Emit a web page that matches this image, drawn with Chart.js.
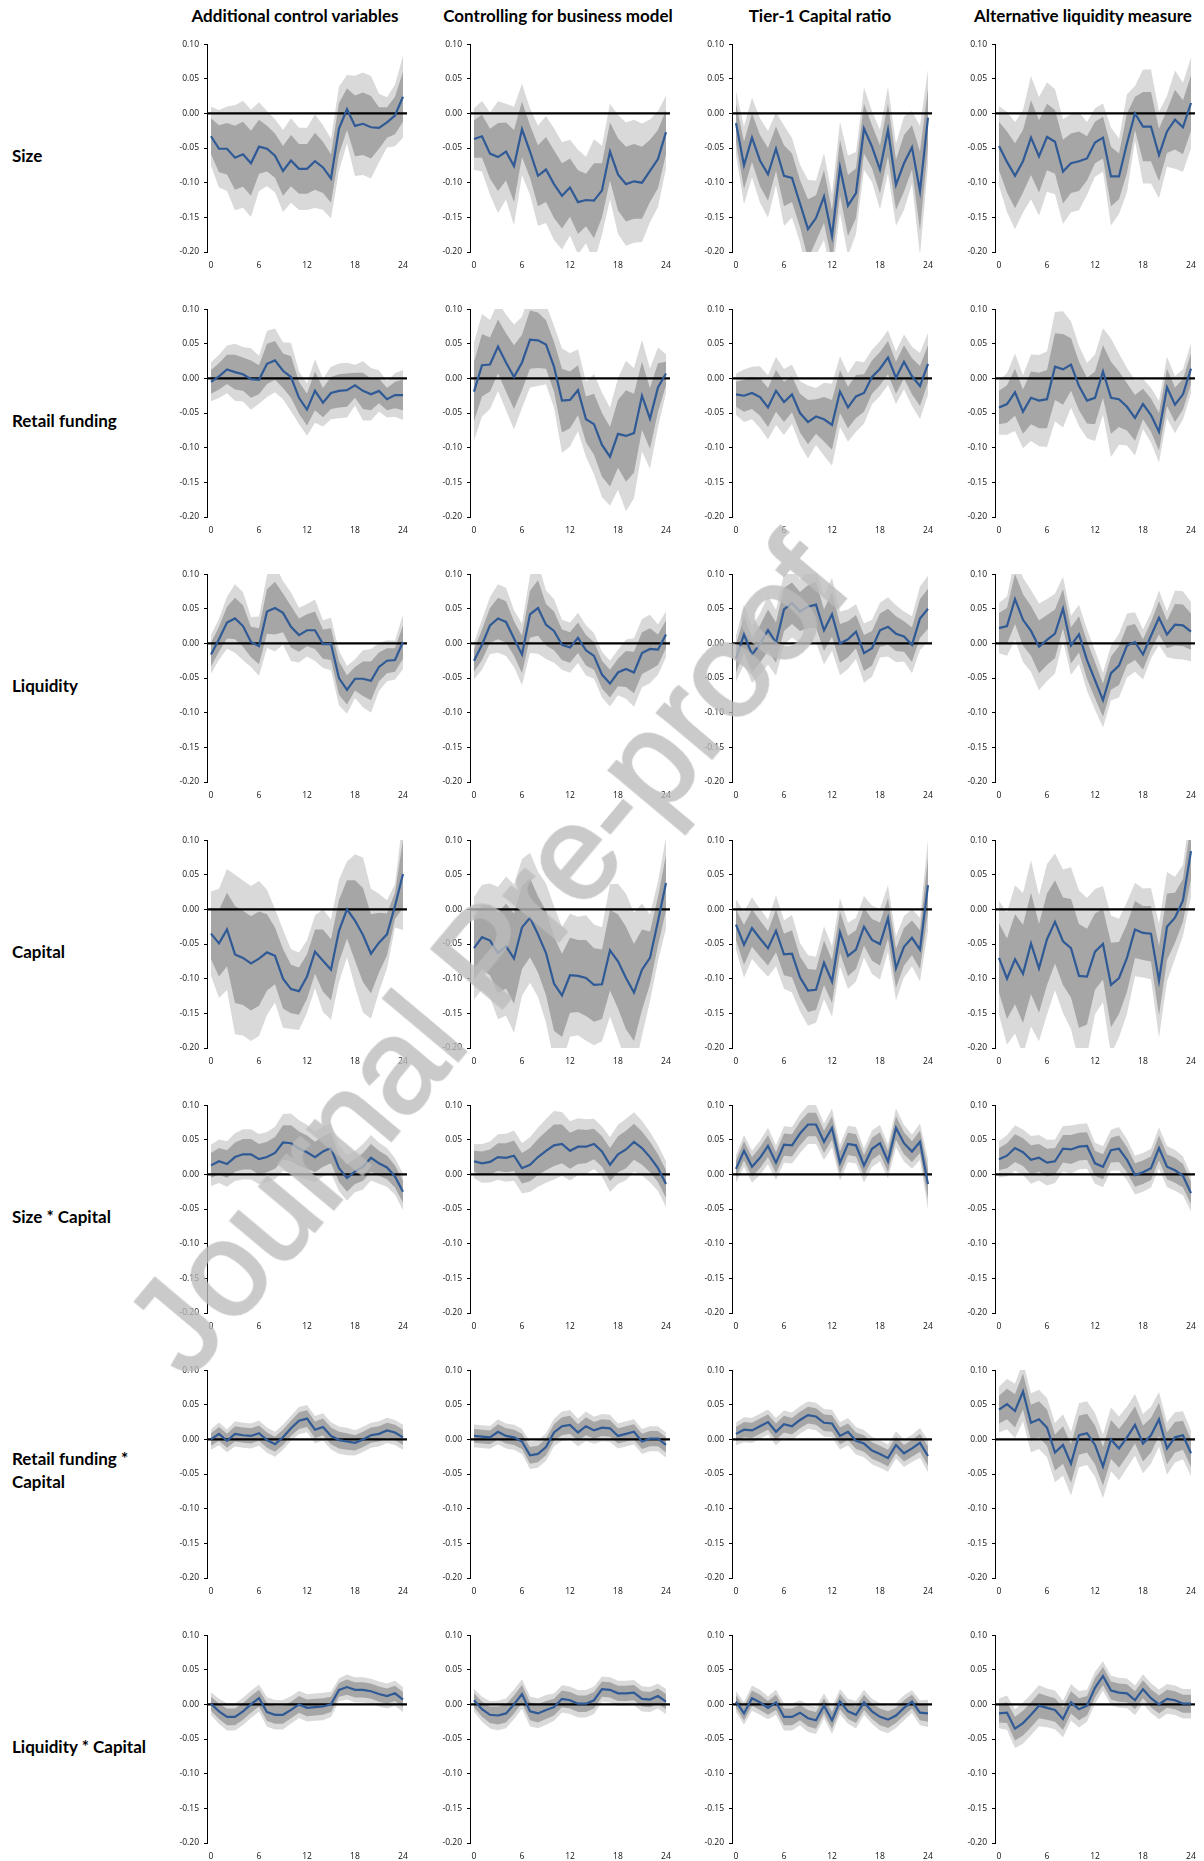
<!DOCTYPE html>
<html lang="en">
<head>
<meta charset="UTF-8" />
<title>Impulse responses - robustness</title>
<script src="https://cdn.jsdelivr.net/npm/chart.js@4.4.0/dist/chart.umd.min.js"></script>
<style>
  body { margin: 0; background: #fff; }
  #page { position: relative; width: 1204px; height: 1861px; overflow: hidden; background: #fff; }
  .panel { position: absolute; }
  .coltitle { position: absolute; font-family: Lato, "Open Sans", sans-serif; font-weight: 700; font-size: 17px; color: #000; transform: translate(-50%, -50%); white-space: nowrap; }
  .rowtitle { position: absolute; left: 12px; font-family: Lato, "Open Sans", sans-serif; font-weight: 700; font-size: 17px; line-height: 23px; color: #000; transform: translateY(-50%); white-space: pre; }
  #wm { position: absolute; font-family: "Liberation Sans", Arial, sans-serif; font-size: 134px; color: rgb(188,188,188); -webkit-text-stroke: 3px rgb(188,188,188); opacity: 0.78; white-space: nowrap; transform: translate(-50%, -50%) rotate(-50deg); pointer-events: none; }
</style>
</head>
<body>
<div id="page"></div>
<script>
// horizon (months) and axis ticks
const horizons = [0,1,2,3,4,5,6,7,8,9,10,11,12,13,14,15,16,17,18,19,20,21,22,23,24];
const xTicks = [0, 6, 12, 18, 24];

const columnTitles = ["Additional control variables", "Controlling for business model", "Tier-1 Capital ratio", "Alternative liquidity measure"];
const rowTitles = ["Size", "Retail funding", "Liquidity", "Capital", "Size * Capital", "Retail funding *\nCapital", "Liquidity * Capital"];

// critical values for the inner (dark) and outer (light) bands
const innerBand = 1.0;
const outerBand = 1.645;

// --- Size ---
const size_c1 = [-0.033,-0.051,-0.051,-0.064,-0.059,-0.072,-0.048,-0.051,-0.061,-0.083,-0.068,-0.080,-0.080,-0.069,-0.078,-0.094,-0.022,0.006,-0.018,-0.015,-0.020,-0.021,-0.013,-0.003,0.024];
const size_c1_se = [0.026,0.034,0.037,0.046,0.047,0.047,0.039,0.033,0.032,0.036,0.037,0.036,0.036,0.041,0.037,0.035,0.037,0.030,0.044,0.045,0.045,0.030,0.022,0.027,0.036];
const size_c2 = [-0.037,-0.033,-0.058,-0.063,-0.055,-0.076,-0.023,-0.055,-0.090,-0.081,-0.102,-0.119,-0.107,-0.128,-0.125,-0.126,-0.111,-0.055,-0.088,-0.102,-0.098,-0.100,-0.083,-0.066,-0.027];
const size_c2_se = [0.027,0.031,0.036,0.049,0.042,0.052,0.040,0.038,0.044,0.047,0.049,0.047,0.042,0.046,0.038,0.054,0.039,0.042,0.052,0.054,0.054,0.052,0.045,0.042,0.032];
const size_c3 = [-0.014,-0.075,-0.035,-0.068,-0.088,-0.051,-0.090,-0.093,-0.130,-0.167,-0.151,-0.120,-0.177,-0.078,-0.133,-0.115,-0.022,-0.048,-0.081,-0.024,-0.103,-0.072,-0.049,-0.112,-0.006];
const size_c3_se = [0.028,0.034,0.035,0.037,0.038,0.032,0.044,0.035,0.034,0.043,0.033,0.038,0.037,0.040,0.044,0.036,0.036,0.031,0.035,0.038,0.036,0.041,0.032,0.057,0.042];
const size_c4 = [-0.047,-0.070,-0.090,-0.069,-0.035,-0.062,-0.034,-0.041,-0.084,-0.072,-0.069,-0.065,-0.042,-0.035,-0.091,-0.091,-0.043,0.000,-0.019,-0.019,-0.060,-0.026,-0.009,-0.020,0.015];
const size_c4_se = [0.035,0.044,0.047,0.045,0.054,0.052,0.048,0.046,0.046,0.043,0.043,0.032,0.030,0.030,0.043,0.033,0.043,0.024,0.050,0.050,0.038,0.031,0.043,0.039,0.040];

// --- Retail funding ---
const retail_c1 = [-0.005,0.003,0.013,0.009,0.006,-0.001,-0.002,0.021,0.026,0.011,0.002,-0.028,-0.045,-0.018,-0.035,-0.021,-0.018,-0.017,-0.010,-0.018,-0.023,-0.018,-0.030,-0.024,-0.024];
const retail_c1_se = [0.017,0.019,0.021,0.025,0.024,0.027,0.021,0.029,0.028,0.025,0.030,0.023,0.023,0.028,0.021,0.023,0.024,0.024,0.018,0.026,0.023,0.018,0.016,0.019,0.022];
const retail_c2 = [-0.019,0.019,0.020,0.046,0.023,0.002,0.023,0.056,0.055,0.049,0.017,-0.032,-0.031,-0.017,-0.059,-0.066,-0.096,-0.113,-0.080,-0.083,-0.079,-0.025,-0.058,-0.013,0.007];
const retail_c2_se = [0.043,0.045,0.039,0.039,0.042,0.046,0.040,0.042,0.040,0.035,0.036,0.046,0.041,0.036,0.033,0.044,0.046,0.043,0.049,0.066,0.057,0.049,0.044,0.035,0.017];
const retail_c3 = [-0.023,-0.025,-0.021,-0.027,-0.042,-0.018,-0.034,-0.023,-0.050,-0.063,-0.055,-0.059,-0.067,-0.019,-0.042,-0.026,-0.021,0.002,0.014,0.030,0.001,0.024,0.003,-0.011,0.021];
const retail_c3_se = [0.018,0.023,0.023,0.027,0.028,0.030,0.029,0.026,0.028,0.032,0.025,0.032,0.036,0.031,0.030,0.031,0.027,0.024,0.024,0.024,0.023,0.024,0.026,0.029,0.027];
const retail_c4 = [-0.042,-0.037,-0.020,-0.048,-0.028,-0.032,-0.030,0.017,0.013,0.020,-0.011,-0.032,-0.028,0.010,-0.028,-0.030,-0.041,-0.057,-0.037,-0.053,-0.077,-0.013,-0.038,-0.023,0.014];
const retail_c4_se = [0.024,0.027,0.034,0.032,0.038,0.040,0.042,0.048,0.051,0.038,0.035,0.033,0.038,0.038,0.052,0.040,0.034,0.033,0.022,0.024,0.027,0.027,0.025,0.022,0.022];

// --- Liquidity ---
const liq_c1 = [-0.016,0.006,0.030,0.036,0.025,0.002,-0.004,0.046,0.051,0.044,0.024,0.012,0.019,0.019,-0.001,-0.001,-0.050,-0.067,-0.051,-0.051,-0.054,-0.034,-0.025,-0.024,0.002];
const liq_c1_se = [0.017,0.018,0.023,0.030,0.030,0.022,0.026,0.032,0.038,0.028,0.030,0.024,0.023,0.027,0.021,0.023,0.024,0.021,0.017,0.025,0.028,0.021,0.018,0.017,0.024];
const liq_c2 = [-0.025,-0.002,0.026,0.036,0.031,0.007,-0.016,0.042,0.051,0.027,0.018,-0.002,-0.006,0.008,-0.010,-0.018,-0.045,-0.058,-0.042,-0.037,-0.042,-0.014,-0.008,-0.009,0.013];
const liq_c2_se = [0.016,0.022,0.025,0.030,0.030,0.025,0.027,0.034,0.040,0.030,0.028,0.022,0.022,0.022,0.022,0.020,0.020,0.020,0.020,0.026,0.030,0.030,0.030,0.022,0.020];
const liq_c3 = [-0.022,0.013,-0.016,-0.001,0.019,0.001,0.049,0.058,0.046,0.053,0.056,0.019,0.042,0.000,0.006,0.017,-0.014,-0.007,0.019,0.024,0.014,0.010,-0.002,0.036,0.050];
const liq_c3_se = [0.020,0.026,0.025,0.027,0.030,0.029,0.031,0.030,0.028,0.031,0.033,0.030,0.032,0.028,0.026,0.024,0.026,0.025,0.024,0.026,0.025,0.022,0.025,0.028,0.029];
const liq_c4 = [0.022,0.025,0.064,0.034,0.018,-0.005,0.005,0.014,0.050,-0.003,0.013,-0.024,-0.053,-0.082,-0.043,-0.032,-0.003,0.002,-0.016,0.011,0.037,0.013,0.027,0.026,0.017];
const liq_c4_se = [0.022,0.026,0.036,0.037,0.036,0.038,0.036,0.035,0.028,0.026,0.026,0.027,0.026,0.024,0.024,0.028,0.028,0.026,0.022,0.020,0.024,0.020,0.030,0.030,0.026];

// --- Capital ---
const cap_c1 = [-0.035,-0.049,-0.029,-0.065,-0.070,-0.078,-0.071,-0.062,-0.067,-0.100,-0.115,-0.118,-0.097,-0.061,-0.074,-0.087,-0.031,0.000,-0.016,-0.037,-0.064,-0.048,-0.036,0.005,0.051];
const cap_c1_se = [0.037,0.048,0.053,0.070,0.068,0.068,0.068,0.055,0.041,0.043,0.035,0.034,0.032,0.032,0.045,0.044,0.045,0.042,0.058,0.068,0.057,0.043,0.030,0.019,0.049];
const cap_c2 = [-0.056,-0.040,-0.045,-0.063,-0.053,-0.071,-0.026,-0.012,-0.036,-0.063,-0.107,-0.124,-0.095,-0.096,-0.099,-0.109,-0.108,-0.059,-0.075,-0.099,-0.120,-0.087,-0.070,-0.017,0.038];
const cap_c2_se = [0.045,0.046,0.050,0.058,0.061,0.065,0.060,0.057,0.055,0.061,0.068,0.060,0.054,0.052,0.055,0.053,0.050,0.058,0.068,0.074,0.070,0.058,0.038,0.035,0.040];
const cap_c3 = [-0.022,-0.051,-0.027,-0.042,-0.056,-0.031,-0.065,-0.064,-0.098,-0.117,-0.116,-0.077,-0.104,-0.033,-0.067,-0.058,-0.025,-0.044,-0.050,-0.013,-0.085,-0.054,-0.041,-0.058,0.035];
const cap_c3_se = [0.022,0.029,0.027,0.026,0.025,0.031,0.030,0.034,0.030,0.031,0.029,0.032,0.031,0.030,0.029,0.028,0.027,0.030,0.031,0.029,0.028,0.027,0.025,0.028,0.040];
const cap_c4 = [-0.070,-0.100,-0.072,-0.093,-0.049,-0.085,-0.043,-0.018,-0.046,-0.056,-0.096,-0.097,-0.061,-0.050,-0.109,-0.099,-0.070,-0.029,-0.034,-0.035,-0.103,-0.025,-0.012,0.013,0.084];
const cap_c4_se = [0.050,0.058,0.065,0.071,0.073,0.064,0.066,0.060,0.063,0.071,0.075,0.069,0.055,0.051,0.061,0.052,0.049,0.041,0.039,0.040,0.050,0.048,0.036,0.031,0.040];

// --- Size * Capital ---
const sizeCap_c1 = [0.013,0.019,0.015,0.025,0.029,0.029,0.022,0.025,0.031,0.046,0.045,0.037,0.032,0.025,0.033,0.038,0.009,-0.005,0.004,0.011,0.024,0.016,0.010,-0.003,-0.025];
const sizeCap_c1_se = [0.018,0.019,0.020,0.021,0.022,0.022,0.022,0.022,0.023,0.025,0.026,0.025,0.024,0.022,0.022,0.022,0.020,0.020,0.018,0.020,0.020,0.018,0.017,0.016,0.016];
const sizeCap_c2 = [0.019,0.016,0.018,0.025,0.024,0.027,0.009,0.014,0.025,0.034,0.042,0.044,0.034,0.040,0.040,0.044,0.033,0.014,0.029,0.036,0.047,0.038,0.025,0.009,-0.014];
const sizeCap_c2_se = [0.015,0.017,0.018,0.020,0.021,0.022,0.022,0.024,0.026,0.028,0.030,0.028,0.026,0.025,0.024,0.022,0.022,0.024,0.026,0.027,0.026,0.024,0.022,0.020,0.020];
const sizeCap_c3 = [0.008,0.034,0.011,0.024,0.041,0.017,0.043,0.042,0.059,0.072,0.072,0.047,0.067,0.017,0.044,0.042,0.013,0.037,0.045,0.019,0.067,0.045,0.033,0.047,-0.014];
const sizeCap_c3_se = [0.012,0.014,0.014,0.015,0.016,0.015,0.016,0.016,0.017,0.017,0.017,0.016,0.017,0.016,0.016,0.016,0.015,0.016,0.016,0.015,0.017,0.016,0.015,0.016,0.022];
const sizeCap_c4 = [0.022,0.027,0.038,0.032,0.021,0.024,0.017,0.019,0.037,0.036,0.040,0.041,0.016,0.011,0.035,0.037,0.021,-0.001,0.003,0.009,0.038,0.011,0.006,-0.002,-0.027];
const sizeCap_c4_se = [0.016,0.018,0.020,0.020,0.021,0.020,0.020,0.019,0.020,0.021,0.020,0.020,0.018,0.018,0.018,0.019,0.018,0.017,0.017,0.017,0.018,0.018,0.018,0.017,0.016];

// --- Retail funding * Capital ---
const retailCap_c1 = [0.000,0.008,-0.002,0.008,0.006,0.005,0.009,-0.001,-0.007,0.003,0.016,0.027,0.030,0.014,0.018,0.005,-0.001,-0.003,-0.005,0.000,0.006,0.008,0.013,0.010,0.003];
const retailCap_c1_se = [0.009,0.010,0.010,0.011,0.011,0.011,0.011,0.011,0.011,0.011,0.011,0.012,0.012,0.012,0.012,0.012,0.012,0.012,0.011,0.011,0.011,0.011,0.011,0.011,0.011];
const retailCap_c2 = [0.005,0.004,0.003,0.011,0.005,0.003,-0.003,-0.023,-0.021,-0.011,0.010,0.019,0.021,0.010,0.019,0.013,0.017,0.016,0.005,0.008,0.011,-0.003,0.001,0.001,-0.008];
const retailCap_c2_se = [0.010,0.010,0.010,0.011,0.011,0.011,0.011,0.012,0.012,0.012,0.012,0.013,0.013,0.012,0.013,0.012,0.012,0.012,0.011,0.011,0.011,0.011,0.011,0.011,0.011];
const retailCap_c3 = [0.008,0.014,0.013,0.019,0.025,0.011,0.022,0.019,0.028,0.035,0.033,0.024,0.023,0.005,0.011,-0.002,-0.006,-0.016,-0.021,-0.027,-0.008,-0.020,-0.013,-0.005,-0.024];
const retailCap_c3_se = [0.010,0.011,0.011,0.011,0.011,0.012,0.012,0.012,0.012,0.012,0.012,0.012,0.012,0.012,0.012,0.012,0.012,0.012,0.012,0.012,0.012,0.012,0.012,0.013,0.014];
const retailCap_c4 = [0.043,0.051,0.041,0.069,0.024,0.029,0.017,-0.019,-0.008,-0.035,0.006,0.009,-0.008,-0.039,0.000,-0.013,0.003,0.021,-0.006,0.006,0.029,-0.013,0.003,0.006,-0.020];
const retailCap_c4_se = [0.020,0.022,0.024,0.026,0.026,0.026,0.026,0.026,0.027,0.028,0.028,0.028,0.028,0.028,0.028,0.028,0.027,0.027,0.026,0.025,0.024,0.023,0.022,0.021,0.020];

// --- Liquidity * Capital ---
const liqCap_c1 = [0.001,-0.010,-0.018,-0.018,-0.010,0.000,0.009,-0.011,-0.015,-0.015,-0.008,0.000,-0.005,-0.004,-0.003,0.000,0.021,0.025,0.021,0.021,0.019,0.015,0.012,0.016,0.007];
const liqCap_c1_se = [0.010,0.011,0.012,0.012,0.012,0.012,0.012,0.013,0.013,0.013,0.012,0.012,0.012,0.012,0.012,0.011,0.010,0.011,0.011,0.011,0.011,0.011,0.011,0.011,0.011];
const liqCap_c2 = [0.006,-0.007,-0.015,-0.016,-0.013,0.000,0.015,-0.010,-0.013,-0.008,-0.004,0.008,0.006,0.001,0.001,0.006,0.022,0.021,0.016,0.016,0.017,0.008,0.007,0.012,0.004];
const liqCap_c2_se = [0.010,0.011,0.012,0.013,0.013,0.013,0.013,0.013,0.013,0.013,0.012,0.012,0.012,0.012,0.012,0.012,0.011,0.011,0.011,0.011,0.011,0.011,0.011,0.011,0.011];
const liqCap_c3 = [0.004,-0.013,0.009,0.003,-0.005,0.003,-0.018,-0.018,-0.012,-0.020,-0.023,-0.002,-0.023,0.004,-0.010,-0.015,0.003,-0.010,-0.018,-0.022,-0.016,-0.005,0.004,-0.012,-0.013];
const liqCap_c3_se = [0.009,0.010,0.011,0.011,0.010,0.011,0.012,0.012,0.011,0.012,0.012,0.011,0.012,0.011,0.011,0.012,0.011,0.011,0.012,0.012,0.011,0.011,0.010,0.011,0.012];
const liqCap_c4 = [-0.013,-0.012,-0.035,-0.027,-0.015,-0.002,-0.005,-0.008,-0.021,0.003,-0.007,-0.002,0.024,0.041,0.020,0.017,0.016,0.006,0.022,0.009,0.000,0.008,0.006,0.001,0.001];
const liqCap_c4_se = [0.013,0.015,0.017,0.018,0.018,0.018,0.017,0.017,0.016,0.016,0.016,0.014,0.014,0.013,0.013,0.013,0.013,0.013,0.013,0.013,0.013,0.013,0.013,0.013,0.013];

const grid = [
  [[size_c1, size_c1_se], [size_c2, size_c2_se], [size_c3, size_c3_se], [size_c4, size_c4_se]],
  [[retail_c1, retail_c1_se], [retail_c2, retail_c2_se], [retail_c3, retail_c3_se], [retail_c4, retail_c4_se]],
  [[liq_c1, liq_c1_se], [liq_c2, liq_c2_se], [liq_c3, liq_c3_se], [liq_c4, liq_c4_se]],
  [[cap_c1, cap_c1_se], [cap_c2, cap_c2_se], [cap_c3, cap_c3_se], [cap_c4, cap_c4_se]],
  [[sizeCap_c1, sizeCap_c1_se], [sizeCap_c2, sizeCap_c2_se], [sizeCap_c3, sizeCap_c3_se], [sizeCap_c4, sizeCap_c4_se]],
  [[retailCap_c1, retailCap_c1_se], [retailCap_c2, retailCap_c2_se], [retailCap_c3, retailCap_c3_se], [retailCap_c4, retailCap_c4_se]],
  [[liqCap_c1, liqCap_c1_se], [liqCap_c2, liqCap_c2_se], [liqCap_c3, liqCap_c3_se], [liqCap_c4, liqCap_c4_se]]
];

// layout
const axisLeft = [207, 470, 732, 995];
const rowTop0 = 44, rowStep = 265.2, plotH = 208, plotW = 201;
const padL = 50, padR = 8, padT = 10, padB = 22;

const tickFont = { family: "'Open Sans', 'Liberation Sans', sans-serif", size: 8.5 };
const lineBlue = "#2F5A96";
const darkGrey = "#A6A6A6";
const lightGrey = "#D9D9D9";

const zeroLine = {
  id: "zeroLine",
  beforeDatasetDraw(chart, args) {
    if (args.index !== 0) return;
    const ctx = chart.ctx, area = chart.chartArea;
    const y = chart.scales.y.getPixelForValue(0);
    ctx.save();
    ctx.strokeStyle = "#000";
    ctx.lineWidth = 2.3;
    ctx.beginPath();
    ctx.moveTo(area.left, y);
    ctx.lineTo(area.right, y);
    ctx.stroke();
    ctx.restore();
  }
};

function points(vals) {
  return vals.map((v, i) => ({ x: horizons[i], y: v }));
}
function edge(est, se, k) {
  return est.map((v, i) => ({ x: horizons[i], y: v + k * se[i] }));
}

const page = document.getElementById("page");

columnTitles.forEach((t, c) => {
  const d = document.createElement("div");
  d.className = "coltitle";
  d.textContent = t;
  d.style.left = (axisLeft[c] + 88) + "px";
  d.style.top = "15px";
  page.appendChild(d);
});

rowTitles.forEach((t, r) => {
  const d = document.createElement("div");
  d.className = "rowtitle";
  d.textContent = t;
  const top = rowTop0 + rowStep * r;
  d.style.top = (top + (t.indexOf("\n") >= 0 ? 100 : 111)) + "px";
  page.appendChild(d);
});

grid.forEach((row, r) => {
  row.forEach((cell, c) => {
    const est = cell[0], se = cell[1];
    const cv = document.createElement("canvas");
    cv.className = "panel";
    cv.width = padL + plotW + padR;
    cv.height = padT + plotH + padB;
    cv.style.left = (axisLeft[c] - padL) + "px";
    cv.style.top = Math.round(rowTop0 + rowStep * r - padT) + "px";
    page.appendChild(cv);

    const bandStyle = { borderWidth: 0, borderColor: "transparent", pointRadius: 0, tension: 0, clip: 0 };
    new Chart(cv, {
      type: "line",
      data: {
        datasets: [
          { data: points(est), borderColor: lineBlue, borderWidth: 2.2, pointRadius: 0, tension: 0, fill: false, clip: 0 },
          Object.assign({ data: edge(est, se, innerBand), fill: "+1", backgroundColor: darkGrey }, bandStyle),
          Object.assign({ data: edge(est, se, -innerBand), fill: false }, bandStyle),
          Object.assign({ data: edge(est, se, outerBand), fill: "+1", backgroundColor: lightGrey }, bandStyle),
          Object.assign({ data: edge(est, se, -outerBand), fill: false }, bandStyle)
        ]
      },
      options: {
        responsive: false,
        animation: false,
        events: [],
        layout: { padding: { top: padT, right: padR, left: 0, bottom: 0 } },
        plugins: { legend: { display: false }, tooltip: { enabled: false } },
        scales: {
          x: {
            type: "linear",
            min: -0.5,
            max: 24.5,
            afterBuildTicks: s => { s.ticks = xTicks.map(v => ({ value: v })); },
            afterFit: s => { s.height = padB; },
            grid: { display: false, drawTicks: false },
            border: { display: false },
            ticks: { padding: 8, autoSkip: false, maxRotation: 0, font: tickFont, color: "#111" }
          },
          y: {
            min: -0.2,
            max: 0.1,
            afterFit: s => { s.width = padL; },
            ticks: {
              stepSize: 0.05,
              padding: 5,
              font: tickFont,
              color: "#111",
              callback: v => (Math.abs(v) < 1e-9 ? 0 : v).toFixed(2)
            },
            grid: { drawOnChartArea: false, drawTicks: true, tickLength: 3, tickColor: "#000" },
            border: { display: true, color: "#000", width: 1 }
          }
        }
      },
      plugins: [zeroLine]
    });
  });
});

const wm = document.createElement("div");
wm.id = "wm";
wm.textContent = "Journal Pre-proof";
wm.style.left = "486px";
wm.style.top = "955px";
page.appendChild(wm);
</script>
</body>
</html>
